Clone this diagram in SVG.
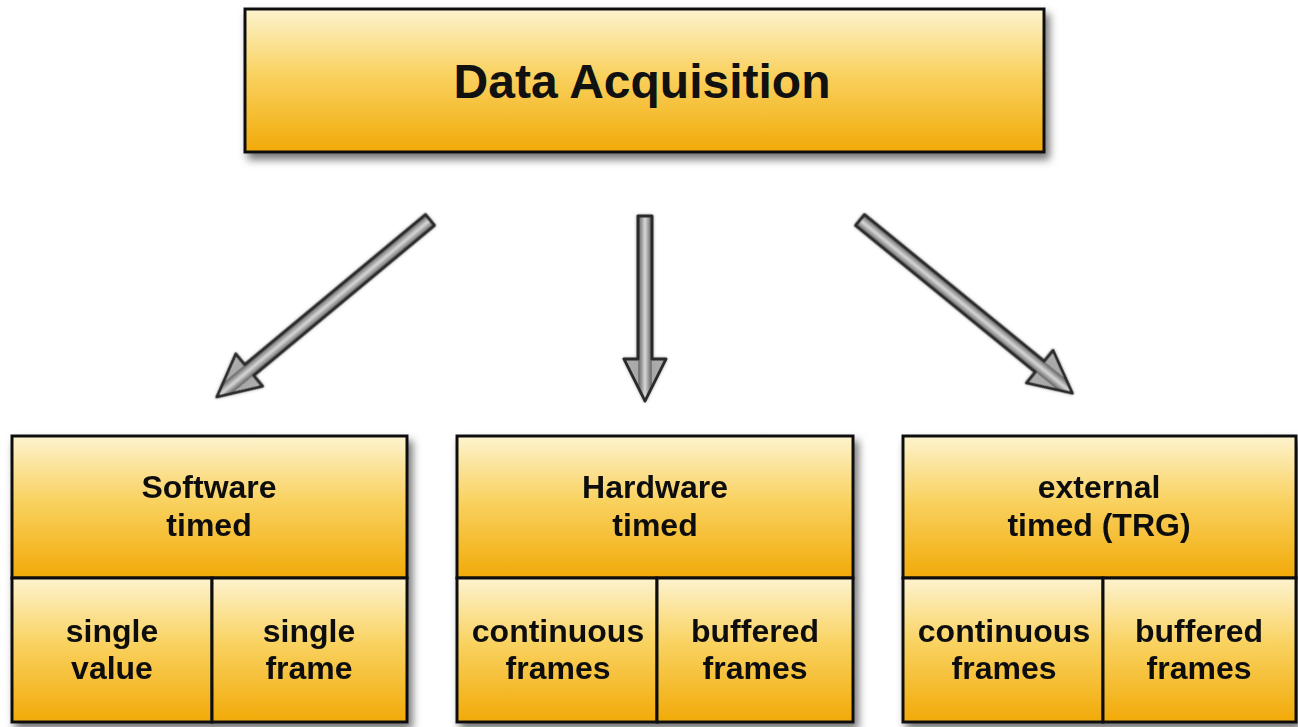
<svg xmlns="http://www.w3.org/2000/svg" width="1298" height="727" viewBox="0 0 1298 727">
<defs>
<linearGradient id="gold" x1="0" y1="0" x2="0" y2="1">
<stop offset="0" stop-color="#fdf3cf"/>
<stop offset="0.45" stop-color="#f9d261"/>
<stop offset="1" stop-color="#f2aa08"/>
</linearGradient>
<linearGradient id="steel" gradientUnits="userSpaceOnUse" x1="0" y1="-22" x2="0" y2="22">
<stop offset="0" stop-color="#b0b0b0"/>
<stop offset="0.33" stop-color="#a8a8a8"/>
<stop offset="0.36" stop-color="#6a6a6a"/>
<stop offset="0.5" stop-color="#d8d8d8"/>
<stop offset="0.64" stop-color="#6a6a6a"/>
<stop offset="0.67" stop-color="#a8a8a8"/>
<stop offset="1" stop-color="#b0b0b0"/>
</linearGradient>
<filter id="shadow" x="-10%" y="-10%" width="125%" height="130%">
<feDropShadow dx="4" dy="6" stdDeviation="4" flood-color="#000" flood-opacity="0.55"/>
</filter>
<filter id="ashadow" x="-20%" y="-20%" width="140%" height="140%">
<feDropShadow dx="0" dy="0" stdDeviation="1.5" flood-color="#000" flood-opacity="0.35"/>
</filter>
</defs>
<style>
.cell{fill:url(#gold);stroke:#111;stroke-width:3}
.t{font-family:"Liberation Sans",Arial,Helvetica,sans-serif;font-weight:bold;fill:#111;text-anchor:middle}
.big{font-size:48px}
.sm{font-size:32px}
.arr{fill:url(#steel);stroke:#2a2a2a;stroke-width:3;stroke-linejoin:round;filter:url(#ashadow)}
</style>
<rect width="1298" height="727" fill="#fff"/>

<g id="data-acquisition">
<rect class="cell" x="245" y="9" width="799" height="143" filter="url(#shadow)"/>
<text class="t big" x="642" y="98">Data Acquisition</text>
</g>

<g id="connectors">
<polygon class="arr" transform="translate(430,220) rotate(140.3)" points="0,-7 235,-7 235,-21 277,0 235,21 235,7 0,7"/>
<polygon class="arr" transform="translate(645,216) rotate(90)" points="0,-7 143,-7 143,-21 185,0 143,21 143,7 0,7"/>
<polygon class="arr" transform="translate(860,220) rotate(39.2)" points="0,-7 232,-7 232,-21 274,0 232,21 232,7 0,7"/>
</g>

<g id="software-timed" filter="url(#shadow)">
<rect class="cell" x="12" y="436" width="395" height="142"/>
<rect class="cell" x="12" y="578" width="200" height="144"/>
<rect class="cell" x="212" y="578" width="195" height="144"/>
<text class="t sm" x="209" y="498">Software</text>
<text class="t sm" x="209" y="536">timed</text>
<text class="t sm" x="112" y="642">single</text>
<text class="t sm" x="112" y="679">value</text>
<text class="t sm" x="309" y="642">single</text>
<text class="t sm" x="309" y="679">frame</text>
</g>

<g id="hardware-timed" filter="url(#shadow)">
<rect class="cell" x="457" y="436" width="396" height="142"/>
<rect class="cell" x="457" y="578" width="200" height="144"/>
<rect class="cell" x="657" y="578" width="196" height="144"/>
<text class="t sm" x="655" y="498">Hardware</text>
<text class="t sm" x="655" y="536">timed</text>
<text class="t sm" x="558" y="642">continuous</text>
<text class="t sm" x="558" y="679">frames</text>
<text class="t sm" x="755" y="642">buffered</text>
<text class="t sm" x="755" y="679">frames</text>
</g>

<g id="external-timed" filter="url(#shadow)">
<rect class="cell" x="903" y="436" width="393" height="142"/>
<rect class="cell" x="903" y="578" width="200" height="144"/>
<rect class="cell" x="1103" y="578" width="193" height="144"/>
<text class="t sm" x="1099" y="498">external</text>
<text class="t sm" x="1099" y="536">timed (TRG)</text>
<text class="t sm" x="1004" y="642">continuous</text>
<text class="t sm" x="1004" y="679">frames</text>
<text class="t sm" x="1199" y="642">buffered</text>
<text class="t sm" x="1199" y="679">frames</text>
</g>
</svg>
